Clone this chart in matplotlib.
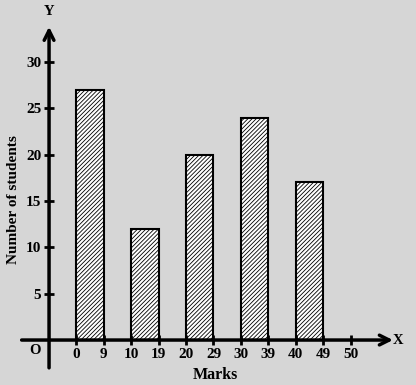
import matplotlib.pyplot as plt

# marks classes and number of students
classes = ["0-9", "10-19", "20-29", "30-39", "40-49"]
students = [27, 12, 20, 24, 17]
x_labels = ["0", "9", "10", "19", "20", "29", "30", "39", "40", "49", "50"]
y_ticks = [5, 10, 15, 20, 25, 30]

plt.rcParams['font.family'] = 'Liberation Serif'
plt.rcParams['font.weight'] = 'bold'
plt.rcParams['hatch.linewidth'] = 0.6

bg = '#d6d6d6'
fig = plt.figure(figsize=(4.16, 3.85), dpi=100)
fig.patch.set_facecolor(bg)
ax = fig.add_axes([0, 0, 1, 1])
ax.set_facecolor(bg)
ax.set_xlim(-1.79, 13.39)
ax.set_ylim(-4.85, 36.68)

# each class takes one tick slot, with a gap slot in between
lefts = [2 * i + 1 for i in range(len(classes))]
ax.bar(lefts, students, width=1, align='edge', color='white',
       edgecolor='black', linewidth=1.5, hatch='////////')

for s in ['top', 'right', 'left', 'bottom']:
    ax.spines[s].set_visible(False)
ax.spines['left'].set_position(('data', 0))
ax.spines['bottom'].set_position(('data', 0))

ax.set_xticks(range(1, len(x_labels) + 1))
ax.set_xticklabels(x_labels)
ax.set_yticks(y_ticks)
ax.tick_params(direction='inout', length=7, width=2, labelsize=11, pad=2)

# axes with arrow heads
ax.annotate('', xy=(12.55, 0), xytext=(-1.0, 0),
            arrowprops=dict(arrowstyle='->, head_length=0.7, head_width=0.35',
                            lw=2.5, color='black', shrinkA=0, shrinkB=0))
ax.annotate('', xy=(0, 33.8), xytext=(0, -3.0),
            arrowprops=dict(arrowstyle='->, head_length=0.7, head_width=0.35',
                            lw=2.5, color='black', shrinkA=0, shrinkB=0))

ax.text(0, 35.4, 'Y', ha='center', va='center', fontsize=10.5)
ax.text(12.75, 0, 'X', ha='center', va='center', fontsize=10.5)
ax.text(-0.5, -1.15, 'O', ha='center', va='center', fontsize=10.5)
ax.text(6.06, -3.8, 'Marks', ha='center', va='center', fontsize=11.5)
ax.text(-1.3, 15.1, 'Number of students', ha='center', va='center',
        rotation=90, fontsize=11)

fig.savefig('out.png', dpi=100, facecolor=bg)
